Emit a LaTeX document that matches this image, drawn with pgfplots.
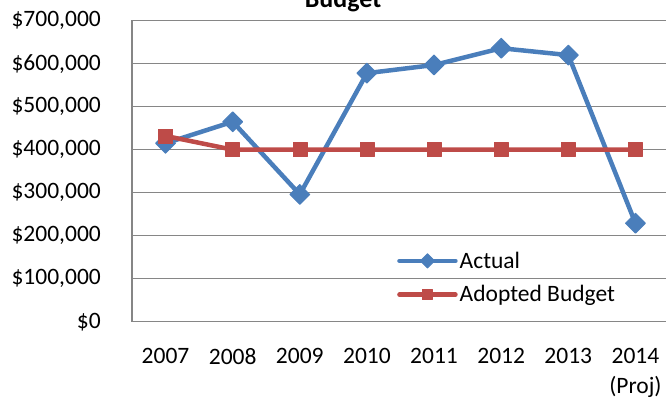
\documentclass[border=0pt]{standalone}
\usepackage{fontspec}
\setmainfont{Carlito}
\usepackage{pgfplots}
\pgfplotsset{compat=1.18}

\definecolor{actualblue}{RGB}{74,126,187}
\definecolor{budgetred}{RGB}{190,75,72}
\definecolor{gridgray}{RGB}{134,134,134}

\begin{document}
\fontsize{23.5}{29.5}\selectfont
\begin{tikzpicture}
\begin{axis}[
    at={(0pt,0pt)}, anchor=south west,
    scale only axis, width=537pt, height=301pt,
    xmin=-0.5, xmax=7.5, ymin=0, ymax=700000,
    xtick={0,...,7},
    xticklabels={2007,2008,2009,2010,2011,2012,2013,{2014\\(Proj)}},
    ytick={0,100000,...,700000},
    yticklabels={{\$0},{\$100,000},{\$200,000},{\$300,000},{\$400,000},{\$500,000},{\$600,000},{\$700,000}},
    scaled y ticks=false,
    major tick length=0pt,
    ymajorgrids,
    major grid style={draw=gridgray, line width=1.3pt},
    axis line style={draw=gridgray, line width=1.3pt},
    yticklabel style={anchor=east, inner sep=0pt, xshift=-31pt},
    xticklabel style={anchor=north, inner sep=0pt, yshift=-26.6pt, align=center},
    title={\fontsize{26}{30}\selectfont\bfseries Budget},
    title style={at={(0.393,1)}, anchor=base, yshift=7.4pt, inner sep=0pt},
    legend style={draw=none, fill=none, at={(0.4935,0.245)}, anchor=north west,
        inner sep=0pt, row sep=8.2pt, column sep=0pt,
        cells={anchor=west, inner sep=0pt, text height=18pt, text depth=3pt}},
    legend cell align=left,
    legend image code/.code={
        \draw[#1, mark size=5pt, mark repeat=2, mark phase=2]
            plot coordinates {(0pt,0pt) (28pt,0pt) (56pt,0pt)};
    },
]
\addplot[actualblue, line width=4.5pt, line cap=round, line join=round,
    mark=square*, mark size=7pt, mark options={rotate=45, solid, line width=1pt}]
    coordinates {(0,415000) (1,465000) (2,296000) (3,578000) (4,597000) (5,636000) (6,620000) (7,229000)};
\addlegendentry{Actual}
\addplot[budgetred, line width=4.5pt, line cap=round, line join=round,
    mark=square*, mark size=7pt, mark options={solid, line width=0.5pt}]
    coordinates {(0,432000) (1,400000) (2,400000) (3,400000) (4,400000) (5,400000) (6,400000) (7,400000)};
\addlegendentry{Adopted Budget}
\end{axis}
\pgfresetboundingbox
\useasboundingbox (-132pt,-80.3pt) rectangle (534pt,321.7pt);
\end{tikzpicture}
\end{document}
